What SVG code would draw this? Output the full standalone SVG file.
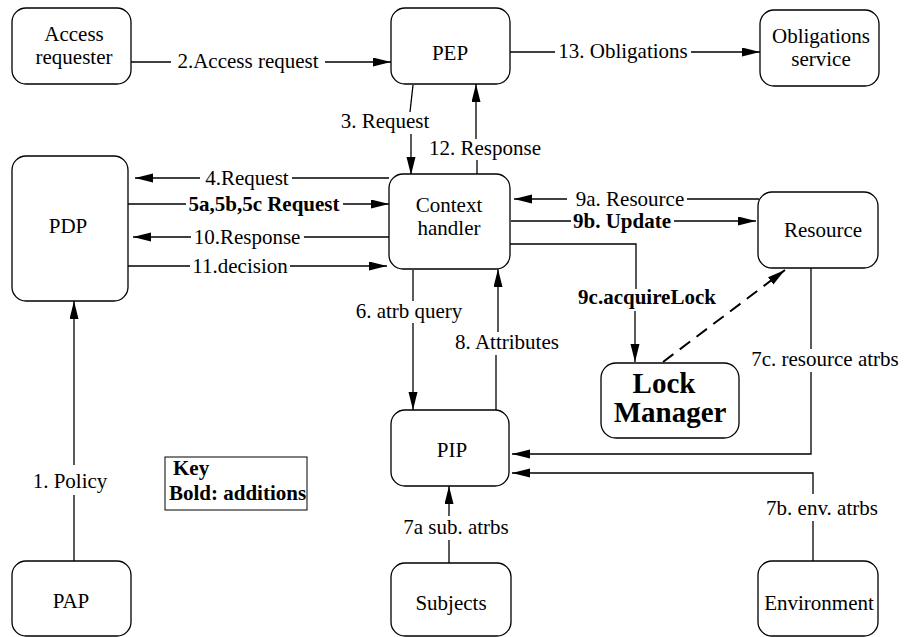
<svg xmlns="http://www.w3.org/2000/svg" width="911" height="637" viewBox="0 0 911 637" font-family="'Liberation Serif', 'Times New Roman', 'DejaVu Serif', serif">
<defs>
<style>
.node rect{fill:#fff;stroke:#000;stroke-width:1.3}
text{font-family:'Liberation Serif','Times New Roman','DejaVu Serif',serif;font-size:21px;fill:#000}
.c{text-anchor:middle}
.b{font-weight:bold}
.lk{font-size:29px;font-weight:bold;text-anchor:middle}
#connectors path{fill:none;stroke:#000;stroke-width:1.3}
#connectors path.a{marker-end:url(#ah)}
#connectors path.d{stroke-dasharray:13 8;stroke-width:2}
</style>
<marker id="ah" markerUnits="userSpaceOnUse" markerWidth="20" markerHeight="10" refX="18" refY="4.5" orient="auto">
<path d="M0,0 L18,4.5 L0,9 z" fill="#000"/>
</marker>
</defs>
<rect width="911" height="637" fill="#fff"/>

<g id="connectors">
<path d="M131,62 H171"/><path class="a" d="M325,62 H391"/>
<text class="c" x="248" y="68">2.Access request</text>
<path d="M510,52 H555"/><path class="a" d="M691,52 H760"/>
<text class="c" x="623" y="58">13. Obligations</text>
<path d="M413,85 L410,112"/><path class="a" d="M411,134 V175"/>
<text class="c" x="385" y="128">3. Request</text>
<path class="a" d="M476,139 V84"/><path d="M477,160 V174"/>
<text class="c" x="485" y="155">12. Response</text>
<path d="M389,178 H292"/><path class="a" d="M200,178 H135"/>
<text class="c" x="247" y="185">4.Request</text>
<path d="M128,204 H186"/><path class="a" d="M343,204 H389"/>
<text class="c b" x="264" y="211">5a,5b,5c Request</text>
<path d="M389,237 H304"/><path class="a" d="M191,237 H133"/>
<text class="c" x="247" y="244">10.Response</text>
<path d="M128,266 H190"/><path class="a" d="M290,266 H387"/>
<text class="c" x="240" y="273">11.decision</text>
<path d="M759,199 H687"/><path class="a" d="M567,199 H514"/>
<text class="c" x="630" y="206">9a. Resource</text>
<path d="M511,221 H571"/><path class="a" d="M674,221 H756"/>
<text class="c b" x="622" y="228">9b. Update</text>
<path d="M510,244 H636 V289"/><path class="a" d="M635,311 V362"/>
<text class="c b" x="647" y="304">9c.acquireLock</text>
<path class="a d" d="M663,362 L785,270"/>
<path d="M811,268 V349"/><path class="a" d="M811,372 V454 H512"/>
<text class="c" x="825" y="366">7c. resource atrbs</text>
<path d="M813,561 V521"/><path class="a" d="M813,494 V473 H512"/>
<text class="c" x="822" y="515">7b. env. atrbs</text>
<path d="M449,563 V540"/><path class="a" d="M449,516 V486"/>
<text class="c" x="456" y="534">7a sub. atrbs</text>
<path d="M413,270 V301"/><path class="a" d="M413,323 V410"/>
<text class="c" x="409" y="318">6. atrb query</text>
<path d="M496,410 V355"/><path class="a" d="M498,332 V269"/>
<text class="c" x="507" y="349">8. Attributes</text>
<path d="M74,561 V495"/><path class="a" d="M74,465 V301"/>
<text class="c" x="70" y="488">1. Policy</text>
</g>

<g id="access-requester" class="node"><rect x="12" y="8" width="119" height="76" rx="14"/>
<text class="c" x="74" y="41">Access</text><text class="c" x="74" y="64">requester</text></g>
<g id="pep" class="node"><rect x="391" y="8" width="119" height="76" rx="14"/>
<text class="c" x="450" y="60">PEP</text></g>
<g id="obligations-service" class="node"><rect x="760" y="10" width="119" height="76" rx="14"/>
<text class="c" x="821" y="43">Obligations</text><text class="c" x="821" y="66">service</text></g>
<g id="pdp" class="node"><rect x="12" y="156" width="116" height="145" rx="14"/>
<text class="c" x="68" y="233">PDP</text></g>
<g id="context-handler" class="node"><rect x="389" y="174" width="121" height="95" rx="14"/>
<text class="c" x="449" y="212">Context</text><text class="c" x="449" y="235">handler</text></g>
<g id="resource" class="node"><rect x="758" y="192" width="120" height="76" rx="14"/>
<text class="c" x="823" y="237">Resource</text></g>
<g id="lock-manager" class="node"><rect x="601" y="363" width="138" height="75" rx="15"/>
<text class="lk" x="664" y="393">Lock</text><text class="lk" x="670" y="422">Manager</text></g>
<g id="pip" class="node"><rect x="391" y="410" width="118" height="76" rx="14"/>
<text class="c" x="452" y="457">PIP</text></g>
<g id="pap" class="node"><rect x="12" y="561" width="119" height="75" rx="14"/>
<text class="c" x="71" y="608">PAP</text></g>
<g id="subjects" class="node"><rect x="391" y="563" width="120" height="73" rx="14"/>
<text class="c" x="451" y="610">Subjects</text></g>
<g id="environment" class="node"><rect x="758" y="561" width="120" height="75" rx="14"/>
<text class="c" x="819" y="610">Environment</text></g>
<g id="key"><rect x="165" y="457" width="142" height="53" fill="#fff" stroke="#000" stroke-width="1"/>
<text class="b" x="173" y="475">Key</text><text class="b" x="169" y="500">Bold: additions</text></g>
</svg>
